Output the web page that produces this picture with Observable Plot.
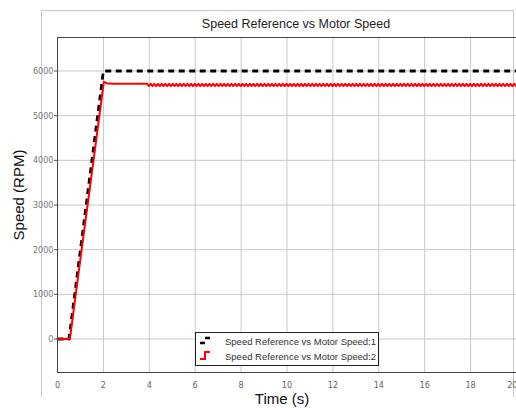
<!DOCTYPE html>
<html>
<head>
<meta charset="utf-8">
<script src="https://cdn.jsdelivr.net/npm/d3@7"></script>
<script src="https://cdn.jsdelivr.net/npm/@observablehq/plot@0.6"></script>
<style>
  html, body { margin: 0; padding: 0; background: #fff; }
  #wrap { position: relative; width: 516px; height: 410px; overflow: hidden; font-family: "Liberation Sans", Arial, sans-serif; }
  #wrap svg { position: absolute; left: 0; top: 0; }
  .ov { position: absolute; white-space: nowrap; }
</style>
</head>
<body>
<div id="wrap"></div>
<script>
// ---- data ----
const titleText = "Speed Reference vs Motor Speed";
const xLabel = "Time (s)";
const yLabel = "Speed (RPM)";
const xTicks = [0, 2, 4, 6, 8, 10, 12, 14, 16, 18, 20];
const yTicks = [0, 1000, 2000, 3000, 4000, 5000, 6000];
const seriesNames = ["Speed Reference vs Motor Speed:1", "Speed Reference vs Motor Speed:2"];

// series 1: speed reference
const refTime  = [0, 0.5, 2.0, 20];
const refSpeed = [0, 0, 6000, 6000];

// series 2: motor speed (ramp + settle)
const motorTime  = [0, 0.54, 1.0, 1.57, 2.02, 2.08, 2.2, 2.5, 3.0, 3.5, 3.86];
const motorSpeed = [0, 0, 1800, 4000, 5760, 5740, 5718, 5715, 5714, 5714, 5712];

// series 2: ripple portion, sampled from t = 3.9 every 0.08 s
const rippleStart = 3.9;
const rippleStep = 0.08;
const rippleSpeed = [
5712,5662,5712,5662,5712,5662,5712,5662,5712,5662,5712,5662,5712,5662,5712,5662,5712,5662,5712,5662,
5712,5662,5712,5662,5712,5662,5712,5662,5712,5662,5712,5662,5712,5662,5712,5662,5712,5662,5712,5662,
5712,5662,5712,5662,5712,5662,5712,5662,5712,5662,5712,5662,5712,5662,5712,5662,5712,5662,5712,5662,
5712,5662,5712,5662,5712,5662,5712,5662,5712,5662,5712,5662,5712,5662,5712,5662,5712,5662,5712,5662,
5712,5662,5712,5662,5712,5662,5712,5662,5712,5662,5712,5662,5712,5662,5712,5662,5712,5662,5712,5662,
5712,5662,5712,5662,5712,5662,5712,5662,5712,5662,5712,5662,5712,5662,5712,5662,5712,5662,5712,5662,
5712,5662,5712,5662,5712,5662,5712,5662,5712,5662,5712,5662,5712,5662,5712,5662,5712,5662,5712,5662,
5712,5662,5712,5662,5712,5662,5712,5662,5712,5662,5712,5662,5712,5662,5712,5662,5712,5662,5712,5662,
5712,5662,5712,5662,5712,5662,5712,5662,5712,5662,5712,5662,5712,5662,5712,5662,5712,5662,5712,5662,
5712,5662,5712,5662,5712,5662,5712,5662,5712,5662,5712,5662,5712,5662,5712,5662,5712,5662,5712,5662,
5712,5662
];

// ---- build tables ----
const refData = refTime.map((t, i) => ({t, v: refSpeed[i]}));
const motorData = motorTime.map((t, i) => ({t, v: motorSpeed[i]}))
  .concat(rippleSpeed.map((v, i) => ({t: rippleStart + i * rippleStep, v})));

const tickFont = "'Liberation Sans Narrow', 'DejaVu Sans Condensed', 'Liberation Sans', sans-serif";
const lastX = xTicks[xTicks.length - 1];

const chart = Plot.plot({
  width: 516,
  height: 410,
  marginLeft: 57,
  marginRight: 0,
  marginTop: 37,
  marginBottom: 38,
  style: {background: "transparent", fontFamily: tickFont, color: "#666"},
  x: {domain: [0, 20], ticks: xTicks},
  y: {domain: [-750, 6750], ticks: yTicks, tickFormat: "d"},
  marks: [
    Plot.gridX(xTicks, {stroke: "#c8c8c8", strokeOpacity: 1, strokeWidth: 1}),
    Plot.gridY(yTicks, {stroke: "#c8c8c8", strokeOpacity: 1, strokeWidth: 1}),
    Plot.axisX(xTicks.slice(0, -1), {tickSize: 0, tickPadding: 9, fontSize: 9, fill: "#666", label: null}),
    Plot.axisX([lastX], {tickSize: 0, tickPadding: 9, fontSize: 9, fill: "#666", label: null, textAnchor: "end", dx: 1}),
    Plot.axisY(yTicks, {tickSize: 3, tickPadding: 1, fontSize: 9, fill: "#777", stroke: "#555", label: null, tickFormat: "d"}),
    Plot.line(refData, {x: "t", y: "v", stroke: "#000", strokeWidth: 2.8, strokeDasharray: "6,4.5", strokeLinecap: "butt"}),
    Plot.line(motorData, {x: "t", y: "v", stroke: "#ff0000", strokeWidth: 2, strokeLinejoin: "round"}),
    Plot.frame({stroke: "#444", strokeWidth: 1})
  ]
});

const wrap = document.getElementById("wrap");

// outer figure frame
const outer = document.createElement("div");
outer.className = "ov";
Object.assign(outer.style, {left: "41px", top: "10px", width: "471px", height: "386px",
  borderLeft: "1px solid #c8c8c8", borderTop: "1px solid #c8c8c8", borderRight: "1px solid #c8c8c8"});
wrap.appendChild(outer);

wrap.appendChild(chart);

// title
const title = document.createElement("div");
title.className = "ov";
title.textContent = titleText;
Object.assign(title.style, {left: "296px", top: "17px", transform: "translateX(-50%)", fontSize: "12.5px", color: "#222"});
wrap.appendChild(title);

// x label
const xl = document.createElement("div");
xl.className = "ov";
xl.textContent = xLabel;
Object.assign(xl.style, {left: "282px", top: "390px", transform: "translateX(-50%)", fontSize: "15px", color: "#111"});
wrap.appendChild(xl);

// y label
const yl = document.createElement("div");
yl.className = "ov";
yl.textContent = yLabel;
Object.assign(yl.style, {left: "18px", top: "195px", transform: "translate(-50%,-50%) rotate(-90deg)", fontSize: "15px", color: "#111"});
wrap.appendChild(yl);

// legend
const leg = document.createElement("div");
leg.className = "ov";
Object.assign(leg.style, {left: "195px", top: "332px", width: "182px", height: "32px",
  border: "1.5px solid #222", background: "#fff"});
leg.innerHTML = `
<svg width="30" height="32" style="position:absolute;left:0;top:0">
  <line x1="9" y1="5" x2="14" y2="5" stroke="#000" stroke-width="2.5"/>
  <line x1="4" y1="10" x2="9" y2="10" stroke="#000" stroke-width="2.5"/>
  <polyline points="4,26 9,26 9,19 14,19" fill="none" stroke="#ff0000" stroke-width="2"/>
</svg>
<div style="position:absolute;left:29px;top:3px;font-size:9.5px;color:#333">${seriesNames[0]}</div>
<div style="position:absolute;left:29px;top:18px;font-size:9.5px;color:#333">${seriesNames[1]}</div>`;
wrap.appendChild(leg);
</script>
</body>
</html>
